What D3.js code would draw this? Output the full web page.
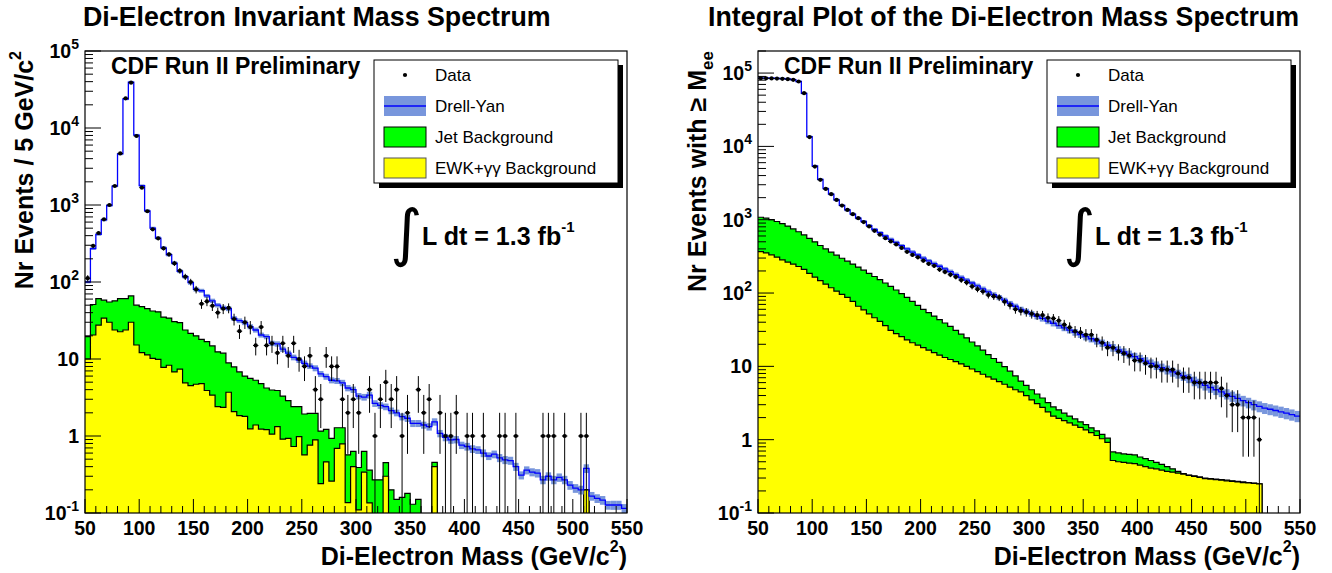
<!DOCTYPE html>
<html><head><meta charset="utf-8">
<script src="https://cdn.jsdelivr.net/npm/d3@7"></script>
<style>
body{margin:0;background:#fff;}
svg text{font-family:"Liberation Sans",Arial,Helvetica,sans-serif;}
</style></head><body>
<svg id="c" width="1332" height="573" xmlns="http://www.w3.org/2000/svg"></svg>
<script>
// ---- categories: 5 GeV/c^2 mass bins (lower edges) ----
const binLow = d3.range(50, 550, 5);
const xTickLabels = [50,100,150,200,250,300,350,400,450,500,550];
const yTickDecades = [-1,0,1,2,3,4,5];

// ---- left panel: di-electron invariant mass spectrum ----
const leftData = [112,295,433,652,1000,1766,4680,24300,38800,7870, 1680,830,483,369,274,229,175,140,117,100,
 80,52,56,49,40,45,46,33,23,30, 26,15,26,15,16,12,16,11,16,10, 8,11,4,3,11,8,8,3,2,3,
 2,0,4,1,3,5,3,4,1,2, 0,4,2,3,0,2,1,1,2,0, 1,1,0,1,0,0,1,1,0,1, 0,0,0,0,1,1,1,0,1,0, 0,1,1,0,0,0,0,0,0,0];
const leftDY = [100,272,415,640,985,1760,4600,23800,39500,8100, 1780,840,500,372,278,226,176,138,117,98,
 80,77,66,57,50,46.4,45,33.7,31.5,29.6, 26.3,23.8,20.5,19.5,16,15.7,13.4,11.9,10.5,9.7,
 8.8,8.1,7.6,6.4,5.9,5.3,5.2,4.9,4.2,4.0, 3.3,3.2,3.4,2.65,2.5,2.4,2.13,2.0,1.78,1.70,
 1.46,1.46,1.39,1.32,1.53,1.08,0.96,0.89,0.9,0.76, 0.73,0.68,0.66,0.6,0.55,0.58,0.52,0.49,0.48,0.40,
 0.31,0.36,0.34,0.33,0.27,0.30,0.27,0.29,0.27,0.23, 0.21,0.20,0.38,0.166,0.155,0.147,0.127,0.127,0.127,0.115];
const leftDYErr = [0.04,0.04,0.04,0.04,0.035,0.035,0.035,0.035,0.035,0.035, 0.04,0.045,0.045,0.05,0.05,0.05,0.055,0.055,0.055,0.06,
 0.06,0.06,0.06,0.065,0.065,0.065,0.07,0.07,0.07,0.07, 0.075,0.075,0.075,0.075,0.08,0.08,0.08,0.08,0.085,0.085,
 0.085,0.085,0.09,0.09,0.09,0.09,0.09,0.095,0.095,0.095, 0.095,0.1,0.1,0.1,0.1,0.1,0.1,0.1,0.105,0.105,
 0.105,0.105,0.105,0.11,0.11,0.11,0.11,0.11,0.11,0.11, 0.115,0.115,0.115,0.115,0.115,0.115,0.12,0.12,0.12,0.12,
 0.12,0.12,0.12,0.125,0.125,0.125,0.125,0.125,0.125,0.13, 0.13,0.13,0.13,0.13,0.13,0.13,0.13,0.135,0.135,0.135];
const leftJet = [19.5,51,61,58,55,57,61,61,66,50, 48,45,42,41,35,34,30.5,29.7,23.8,21.5,
 20,18,16.8,14.8,12.4,11.9,8.9,7.9,6.8,6.0, 5.6,5.3,4.8,4.2,3.96,3.9,3.3,2.88,2.4,2.4,
 1.93,1.97,1.97,1.16,1.22,0.93,1.28,1.28,0.57,0.63, 0.39,0.63,0.36,0.27,0.27,0.45,0.20,0.15,0.16,0.18,
 0.13,0.15,0.10,0,0.455,0,0,0,0,0, 0,0,0,0,0,0,0,0,0,0, 0,0,0,0,0,0,0,0,0,0, 0,0,0.2,0,0,0,0,0,0,0];
const leftEWK = [10,20.5,27.6,34,30,23.8,22.6,23.8,30,15.2, 12.1,11.3,10.2,9.9,7.8,8.3,6.8,7.4,4.9,4.5,
 4.7,4.8,3.9,3.4,2.4,2.35,3.7,2.07,1.84,1.8, 1.24,1.39,1.23,1.21,1.06,1.32,0.91,0.93,0.73,0.98,
 0.57,0.76,0.89,0.24,0.46,0.26,0.69,0.79,0.136,0.40, 0.11,0.34,0.135,0,0,0.30,0,0,0,0,
 0,0,0,0,0.40,0,0,0,0,0, 0,0,0,0,0,0,0,0,0,0, 0,0,0,0,0,0,0,0,0,0, 0,0,0.2,0,0,0,0,0,0,0];

// ---- right panel: integral (events with mass >= M_ee) ----
const rightData = [85000,84900,84600,84200,83600,82600,80800,76700,53200,13400, 5300,3500,2630,2230,1860,1560,1360,1190,1050,930,
 810,705,625,560,505,460,412,365,331,307, 276,250,235,209,194,178,166,150,139,123,
 113,105,94,90,87,76,68,60,57,55, 52,50,50,46,45,42,37,34,30,29,
 27,27,23,21,18,18,16,15,14,12, 12,11,10,10,9,9,9,8,7,7, 6,6,6,6,6,5,4,3,3,2, 2,2,1,0,0,0,0,0,0,0];
const rightDY = [85500,85400,85100,84700,84100,83100,81300,76700,53000,13600, 5400,3550,2660,2240,1870,1570,1360,1190,1050,945,
 830,735,665,600,540,490,442,400,362,330, 300,275,252,232,213,196,178,163,150,137,
 125,114,104,95,87,80,72,66,60,56, 52,48,45,41.5,38.7,36,33.5,31.2,29.2,27.2,
 25.4,23.8,22.2,20.8,19.4,18,16.8,15.7,14.6,13.6, 12.7,11.8,11,10.3,9.6,9.0,8.4,7.9,7.4,6.9,
 6.3,5.9,5.5,5.15,4.8,4.5,4.2,3.9,3.65,3.4, 3.2,3.0,2.85,2.7,2.6,2.5,2.4,2.3,2.2,2.1];
const rightDYErr = [0.035,0.035,0.035,0.035,0.035,0.035,0.035,0.035,0.035,0.035, 0.035,0.035,0.04,0.04,0.04,0.04,0.045,0.045,0.045,0.045,
 0.05,0.05,0.05,0.05,0.055,0.055,0.055,0.055,0.06,0.06, 0.06,0.06,0.065,0.065,0.065,0.065,0.07,0.07,0.07,0.07,
 0.075,0.075,0.075,0.08,0.08,0.08,0.085,0.085,0.085,0.09, 0.09,0.09,0.095,0.095,0.095,0.1,0.1,0.1,0.105,0.105,
 0.11,0.11,0.11,0.115,0.115,0.12,0.12,0.12,0.125,0.125, 0.13,0.13,0.13,0.135,0.135,0.14,0.14,0.14,0.145,0.145,
 0.15,0.15,0.15,0.155,0.155,0.155,0.16,0.16,0.16,0.165, 0.165,0.165,0.17,0.17,0.17,0.17,0.175,0.175,0.175,0.175];
const rightJet = [1080,1050,1000,945,885,820,750,685,620,555, 500,445,400,362,328,298,272,248,226,205,
 186,168,152,137,123,110,98,87,77,68, 60,54,48.5,43.5,39,35,31,27.5,24.5,21.5,
 19,16.6,14.5,12.8,11.3,9.9,8.6,7.4,6.3,5.5, 4.8,4.2,3.7,3.2,2.8,2.55,2.3,2.1,1.92,1.75,
 1.6,1.45,1.32,1.18,1.05,0.68,0.66,0.64,0.63,0.62, 0.58,0.55,0.52,0.49,0.46,0.43,0.40,0.37,0.345,0.33,
 0.32,0.31,0.30,0.295,0.29,0.285,0.28,0.275,0.27,0.265, 0.26,0.255,0.25,0,0,0,0,0,0,0];
const rightEWK = [367,352,332,308,284,264,248,230,210,185, 165,148,132,118,106,96,87,77,66,59,
 52,46,41,36,31,28,25.5,23,21,19.5, 18,16.6,15.4,14.2,13.2,12.4,11.6,10.8,10.0,9.2,
 8.5,7.8,7.2,6.7,6.2,5.7,5.2,4.8,4.5,4.0, 3.5,3.1,2.75,2.4,2.1,1.95,1.82,1.7,1.58,1.47,
 1.36,1.25,1.14,1.03,0.92,0.52,0.5,0.49,0.48,0.47, 0.45,0.43,0.41,0.40,0.385,0.37,0.36,0.35,0.34,0.325,
 0.315,0.305,0.295,0.29,0.285,0.28,0.275,0.27,0.265,0.26, 0.257,0.253,0.25,0,0,0,0,0,0,0];

const legendLabels = ["Data","Drell-Yan","Jet Background","EWK+\u03b3\u03b3 Background"];

// ---- layout / style ----
const yTop = 51, yBot = 513;
const COL = {jet:"#00ff00", ewk:"#ffff00", band:"#7896dc", dy:"#0000ff"};
const panels = [
  {x0:85, x1:627, yMax:1e5, data:leftData, dy:leftDY, err:leftDYErr, jet:leftJet, ewk:leftEWK,
   title:"Di-Electron Invariant Mass Spectrum", titleX:83, yTitle:[["Nr Events / 5 GeV/c",0],["2",-1]]},
  {x0:758, x1:1300, yMax:2e5, data:rightData, dy:rightDY, err:rightDYErr, jet:rightJet, ewk:rightEWK,
   title:"Integral Plot of the Di-Electron Mass Spectrum", titleX:708, yTitle:[["Nr Events with \u2265 M",0],["ee",1]]}
];

const svg = d3.select("#c");
const defs = svg.append("defs");

panels.forEach((p, pi) => {
  const x = d3.scaleLinear().domain([50, 550]).range([p.x0, p.x1]);
  const y = d3.scaleLog().domain([0.1, p.yMax]).range([yBot, yTop]);
  const bw = x(55) - x(50);
  const yv = v => (v && v > 0.1) ? y(v) : yBot + 4;
  const pts = vals => { const a = binLow.map((m, i) => [m, vals[i]]); a.push([550, vals[vals.length - 1]]); return a; };
  const area = d3.area().curve(d3.curveStepAfter).x(d => x(d[0])).y0(yBot + 4).y1(d => yv(d[1]));
  const line = d3.line().curve(d3.curveStepAfter).x(d => x(d[0])).y(d => yv(d[1]));

  defs.append("clipPath").attr("id", "clip" + pi).append("rect")
    .attr("x", p.x0).attr("y", yTop).attr("width", p.x1 - p.x0).attr("height", yBot - yTop);
  const plot = svg.append("g").attr("clip-path", `url(#clip${pi})`);

  // stacked backgrounds
  plot.append("path").attr("d", area(pts(p.jet))).attr("fill", COL.jet);
  plot.append("path").attr("d", line(pts(p.jet))).attr("fill", "none").attr("stroke", "#000").attr("stroke-width", 1.2);
  plot.append("path").attr("d", area(pts(p.ewk))).attr("fill", COL.ewk);
  plot.append("path").attr("d", line(pts(p.ewk))).attr("fill", "none").attr("stroke", "#000").attr("stroke-width", 1.2);

  // Drell-Yan band + line
  plot.append("g").selectAll("rect").data(binLow).join("rect")
    .attr("x", m => x(m)).attr("width", bw)
    .attr("y", (m, i) => y(p.dy[i] * (1 + p.err[i])))
    .attr("height", (m, i) => y(p.dy[i] * (1 - p.err[i])) - y(p.dy[i] * (1 + p.err[i])))
    .attr("fill", COL.band);
  plot.append("path").attr("d", line(pts(p.dy))).attr("fill", "none").attr("stroke", COL.dy).attr("stroke-width", 1.3);

  // data points with Poisson error bars
  const dpts = binLow.map((m, i) => ({m, n: p.data[i]})).filter(d => d.n > 0);
  const dg = plot.append("g");
  dg.selectAll("line.v").data(dpts).join("line").attr("class", "v")
    .attr("x1", d => x(d.m + 2.5)).attr("x2", d => x(d.m + 2.5))
    .attr("y1", d => y(d.n + Math.sqrt(d.n))).attr("y2", d => yv(d.n - Math.sqrt(d.n)))
    .attr("stroke", "#000").attr("stroke-width", 1);
  dg.selectAll("line.h").data(dpts).join("line").attr("class", "h")
    .attr("x1", d => x(d.m)).attr("x2", d => x(d.m + 5))
    .attr("y1", d => y(d.n)).attr("y2", d => y(d.n))
    .attr("stroke", "#000").attr("stroke-width", 1);
  dg.selectAll("circle").data(dpts).join("circle")
    .attr("cx", d => x(d.m + 2.5)).attr("cy", d => y(d.n)).attr("r", 2.1).attr("fill", "#000");

  // frame
  svg.append("rect").attr("x", p.x0).attr("y", yTop).attr("width", p.x1 - p.x0).attr("height", yBot - yTop)
    .attr("fill", "none").attr("stroke", "#000").attr("stroke-width", 1.2);

  // x ticks (inside)
  const ax = svg.append("g");
  ax.selectAll("line.mi").data(d3.range(50, 551, 10)).join("line").attr("class","mi")
    .attr("x1", d => x(d)).attr("x2", d => x(d))
    .attr("y1", yBot).attr("y2", d => yBot - ((d % 50 === 0) ? 14 : 7))
    .attr("stroke", "#000").attr("stroke-width", 1);
  ax.selectAll("text").data(xTickLabels).join("text")
    .attr("x", d => x(d)).attr("y", 535).attr("text-anchor", "middle")
    .attr("font-size", 19.5).attr("font-weight", "bold").text(d => d);

  // y ticks (inside, log)
  const minors = [];
  yTickDecades.forEach(e => { for (let k = 2; k <= 9; k++) { const v = k * Math.pow(10, e); if (v <= p.yMax) minors.push(v); } });
  ax.selectAll("line.ymi").data(minors).join("line").attr("class","ymi")
    .attr("x1", p.x0).attr("x2", p.x0 + 8).attr("y1", d => y(d)).attr("y2", d => y(d))
    .attr("stroke", "#000").attr("stroke-width", 1);
  ax.selectAll("line.yma").data(yTickDecades).join("line").attr("class","yma")
    .attr("x1", p.x0).attr("x2", p.x0 + 16).attr("y1", e => y(Math.pow(10, e))).attr("y2", e => y(Math.pow(10, e)))
    .attr("stroke", "#000").attr("stroke-width", 1);
  yTickDecades.forEach(e => {
    const t = ax.append("text").attr("x", p.x0 - 6).attr("y", y(Math.pow(10, e)) + 7)
      .attr("text-anchor", "end").attr("font-size", 19.5).attr("font-weight", "bold");
    if (e === 0) t.text("1");
    else if (e === 1) t.text("10");
    else { t.append("tspan").text("10"); t.append("tspan").attr("dy", -9).attr("font-size", 14).text(String(e)); }
  });

  // titles
  svg.append("text").attr("x", p.titleX).attr("y", 26).attr("font-size", 26.8).attr("font-weight", "bold").text(p.title);
  const xt = svg.append("text").attr("x", p.x1).attr("y", 565).attr("text-anchor", "end")
    .attr("font-size", 25).attr("font-weight", "bold");
  xt.append("tspan").text("Di-Electron Mass (GeV/c");
  xt.append("tspan").attr("dy", -13).attr("font-size", 16).text("2");
  xt.append("tspan").attr("dy", 13).text(")");
  const yt = svg.append("text").attr("transform", `translate(${p.x0 - 52},${yTop}) rotate(-90)`)
    .attr("text-anchor", "end").attr("font-size", 25).attr("font-weight", "bold");
  yt.append("tspan").text(p.yTitle[0][0]);
  if (p.yTitle[1][1] < 0) yt.append("tspan").attr("dy", -12).attr("font-size", 16).text(p.yTitle[1][0]);
  else yt.append("tspan").attr("dy", 7).attr("font-size", 17).text(p.yTitle[1][0]);

  // CDF label
  svg.append("text").attr("x", p.x0 + 26).attr("y", 74).attr("font-size", 23).attr("font-weight", "bold")
    .text("CDF Run II Preliminary");

  // luminosity
  svg.append("text").attr("x", p.x0 + 305).attr("y", 254).attr("font-size", 62)
    .attr("style", "font-family:'DejaVu Sans'").text("\u222b");
  const lt = svg.append("text").attr("x", p.x0 + 337).attr("y", 245).attr("font-size", 25).attr("font-weight", "bold");
  lt.append("tspan").text("L dt = 1.3 fb");
  lt.append("tspan").attr("dy", -13).attr("font-size", 15).text("-1");

  // legend
  const L = p.x0 + 289, T = 60, LW = 244, LH = 123;
  const lg = svg.append("g");
  lg.append("rect").attr("x", L + 5).attr("y", T + 5).attr("width", LW).attr("height", LH).attr("fill", "#000");
  lg.append("rect").attr("x", L).attr("y", T).attr("width", LW).attr("height", LH).attr("fill", "#fff").attr("stroke", "#000");
  const ey = [T + 15, T + 46, T + 77, T + 108];
  lg.append("circle").attr("cx", L + 31).attr("cy", ey[0]).attr("r", 2.1).attr("fill", "#000");
  lg.append("rect").attr("x", L + 10).attr("y", ey[1] - 10).attr("width", 42).attr("height", 20).attr("fill", COL.band);
  lg.append("line").attr("x1", L + 10).attr("x2", L + 52).attr("y1", ey[1]).attr("y2", ey[1]).attr("stroke", COL.dy).attr("stroke-width", 1.3);
  lg.append("rect").attr("x", L + 10).attr("y", ey[2] - 10).attr("width", 42).attr("height", 20).attr("fill", COL.jet).attr("stroke", "#000");
  lg.append("rect").attr("x", L + 10).attr("y", ey[3] - 10).attr("width", 42).attr("height", 20).attr("fill", COL.ewk).attr("stroke", "#555");
  legendLabels.forEach((s, i) => {
    lg.append("text").attr("x", L + 61).attr("y", ey[i] + 6).attr("font-size", 17).text(s);
  });
});
</script>
</body></html>
